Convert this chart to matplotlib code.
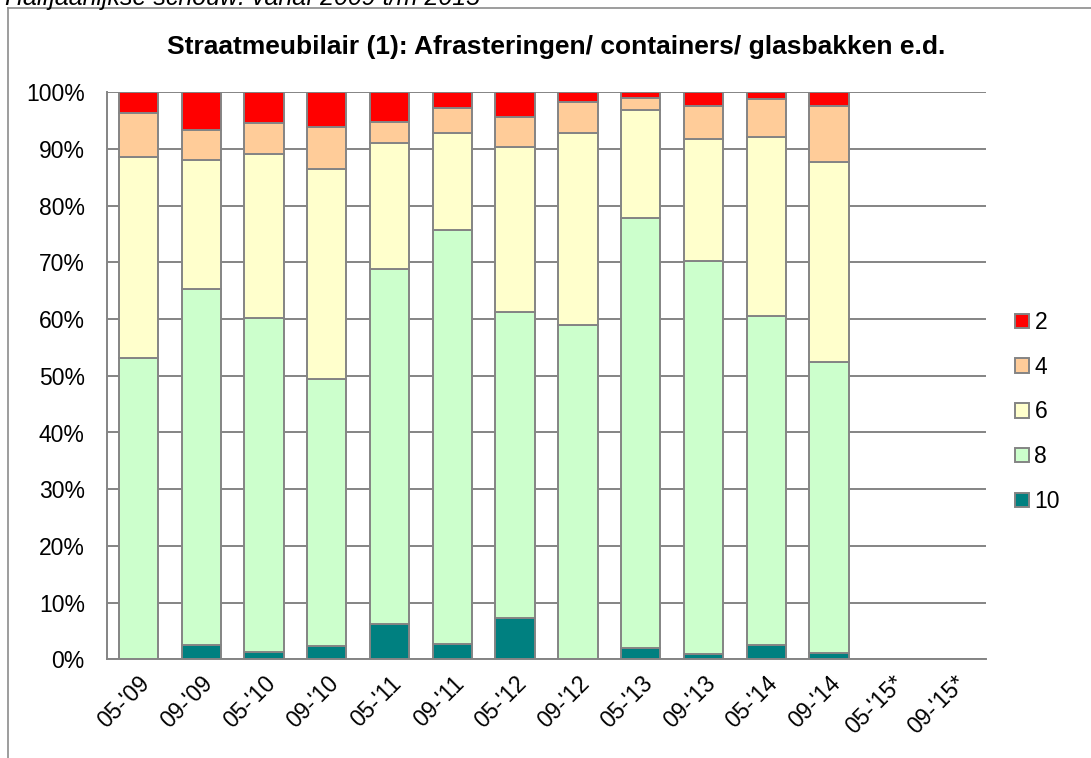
import matplotlib
matplotlib.use("Agg")
import matplotlib.pyplot as plt
from matplotlib.patches import Patch
from matplotlib.lines import Line2D
import numpy as np

plt.rcParams['font.family'] = ['Liberation Sans', 'DejaVu Sans']

categories = ["05-'09", "09-'09", "05-'10", "09-'10", "05-'11", "09-'11",
              "05-'12", "09-'12", "05-'13", "09-'13", "05-'14", "09-'14",
              "05-'15*", "09-'15*"]

# percentages per score (last two periods have no data)
s10 = [0.0, 2.5, 1.2, 2.4, 6.3, 2.75, 7.3, 0.0, 2.0, 0.9, 2.5, 1.1, 0, 0]
s8  = [53.2, 62.8, 59.0, 47.0, 62.6, 72.95, 54.0, 58.9, 75.8, 69.3, 58.0, 51.4, 0, 0]
s6  = [35.4, 22.7, 28.9, 37.1, 22.1, 17.2, 29.1, 34.0, 19.0, 21.6, 31.6, 35.15, 0, 0]
s4  = [7.7, 5.4, 5.5, 7.4, 3.8, 4.3, 5.3, 5.4, 2.25, 5.8, 6.7, 9.85, 0, 0]
s2  = [3.7, 6.6, 5.4, 6.1, 5.2, 2.8, 4.3, 1.7, 0.95, 2.4, 1.2, 2.5, 0, 0]

series = [("10", s10, "#008080"), ("8", s8, "#CCFFCC"), ("6", s6, "#FFFFCC"),
          ("4", s4, "#FFCC99"), ("2", s2, "#FF0000")]

title = "Straatmeubilair (1): Afrasteringen/ containers/ glasbakken e.d."
header = "Halfjaarlijkse schouw: vanaf 2009 t/m 2015"

W, H = 1091, 758
fig = plt.figure(figsize=(W / 100, H / 100), dpi=100)
ax = fig.add_axes([107 / W, 1 - 659.3 / H, (986 - 107) / W, (659.3 - 92.3) / H])

grey = "#848484"
x = np.arange(len(categories))
bottom = np.zeros(len(categories))
for name, vals, col in series:
    vals = np.array(vals, dtype=float)
    mask = vals > 0
    ax.bar(x[mask], vals[mask], width=0.625, bottom=bottom[mask], color=col,
           edgecolor=grey, linewidth=1.4, zorder=3)
    bottom += vals

ax.set_xlim(-0.5, len(categories) - 0.5)
ax.set_ylim(0, 100)
ax.set_yticks(np.arange(0, 101, 10))
ax.set_yticklabels([f"{v}%" for v in range(0, 101, 10)], fontsize=16.5)
ax.yaxis.grid(True, color=grey, linewidth=1.4, zorder=0)
ax.set_axisbelow(True)
ax.set_xticks(x)
ax.set_xticklabels(categories, rotation=45, ha='right', va='top',
                   rotation_mode='anchor', fontsize=16.5)
ax.tick_params(axis='both', length=0)
ax.tick_params(axis='y', pad=16)
ax.tick_params(axis='x', pad=9)
for s in ['top', 'right']:
    ax.spines[s].set_visible(False)
for s in ['left', 'bottom']:
    ax.spines[s].set_color(grey)
    ax.spines[s].set_linewidth(1.4)

fig.text(556 / W, 1 - 47 / H, title, ha='center', va='center',
         fontsize=19, fontweight='bold')

# chart border (left and top edges visible)
fig.add_artist(Line2D([8 / W, 8 / W], [0, 1 - 8 / H], color="#8c8c8c",
                      linewidth=1.2, transform=fig.transFigure))
fig.add_artist(Line2D([8 / W, 1], [1 - 8 / H, 1 - 8 / H], color="#8c8c8c",
                      linewidth=1.2, transform=fig.transFigure))

fig.text(5 / W, 1 - 5 / H, header, ha='left', va='baseline',
         fontsize=18, fontstyle='italic')

handles = [Patch(facecolor=col, edgecolor=grey, linewidth=1.4, label=name)
           for name, vals, col in reversed(series)]
fig.legend(handles=handles, loc='center left', bbox_to_anchor=(1015 / W, 1 - 412 / H),
           frameon=False, fontsize=16.5, handlelength=0.6, handleheight=0.6,
           handletextpad=0.25, labelspacing=0.95, borderpad=0, borderaxespad=0)

fig.savefig("out.png", dpi=100)
